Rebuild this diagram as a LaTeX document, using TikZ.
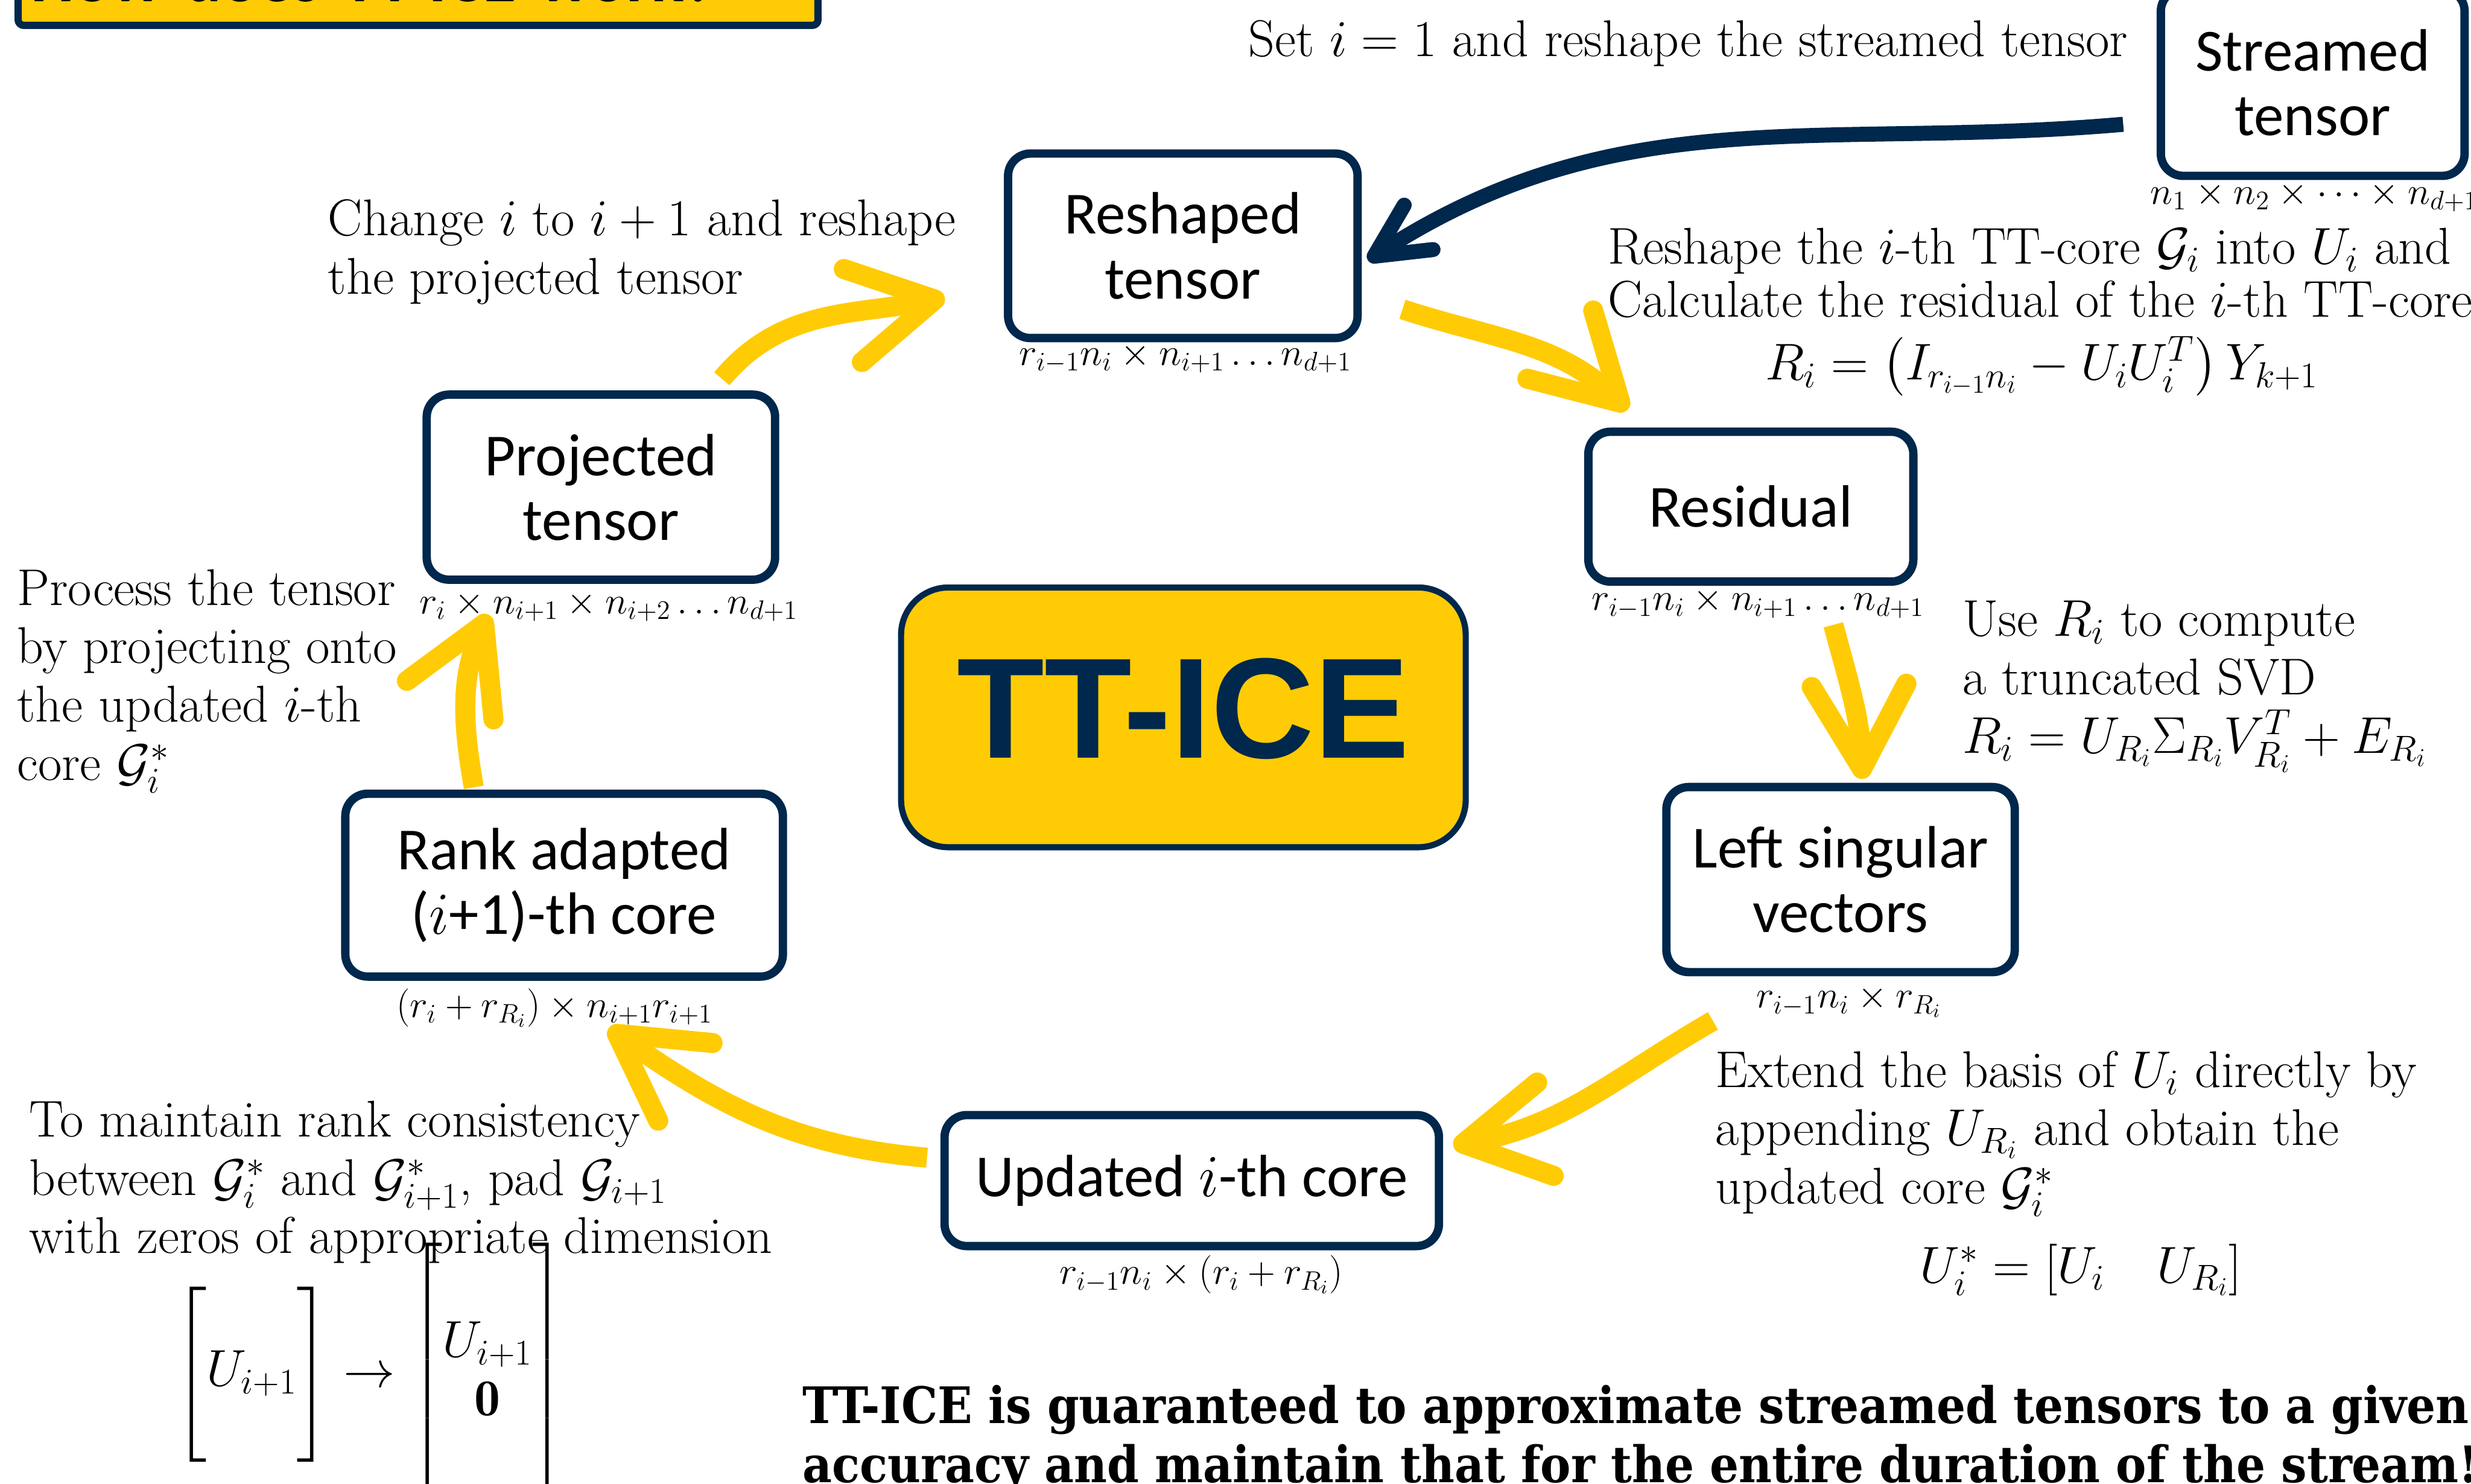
\documentclass[tikz,border=0pt]{standalone}
\usepackage{fix-cm}
\usepackage{tikz}
\usetikzlibrary{arrows.meta}
\usepackage{amsmath}
\usepackage{fontspec}
\newfontfamily\carlito{Carlito}
\newfontfamily\arialfont{Liberation Sans}
\newfontfamily\slabfont[FakeStretch=0.906]{DejaVu Serif}
\definecolor{maize}{HTML}{FFCB05}
\definecolor{umblue}{HTML}{00274C}

\begin{document}
\begin{tikzpicture}
                            \tikzset{tensor box/.style={draw=umblue, line width=1.5mm, rounded corners=4mm,
                            fill=white, align=center, minimum width=#1, font=\carlito\fontsize{30.5}{33}\selectfont}}
                            \tikzset{dim label/.style={inner sep=0pt, font=\fontsize{19.5}{23}\selectfont}}
                            \tikzset{note/.style={inner sep=0pt, align=left, anchor=west, font=\fontsize{26.4}{29.8}\selectfont}}
                            \tikzset{cycle arrow/.style={draw=maize, line width=3.6mm,
                            -{Straight Barb[round, length=15mm, width=17mm]}}}

                            \useasboundingbox (0,0) rectangle (44.33,-26.62);
                            \clip (0,0) rectangle (44.33,-26.62);

                            \node [draw=umblue, fill=maize, line width=1.3mm, rounded corners=1mm, anchor=south west,
                            inner xsep=2.3mm, inner ysep=0pt, text width=13.89cm, text height=1.5cm, text depth=0.425cm,
                            font=\carlito\bfseries\fontsize{35}{40}\selectfont] (title) at (0.26,-0.52) {How does TT-ICE work?};

                            \node [draw=umblue, fill=maize, line width=1.1mm, rounded corners=8.5mm, minimum width=10.13cm,
                            minimum height=4.66cm, text depth=0.34cm, text=umblue,
                            font=\arialfont\bfseries\fontsize{73}{80}\selectfont] (ttice) at (21.23,-12.87) {TT-ICE};

                            \node [tensor box=5.45cm, minimum height=3.35cm] (streamed) at (41.49,-1.48) {Streamed\\tensor};
                            \node [tensor box=6.27cm, minimum height=3.31cm] (reshaped) at (21.22,-4.41) {Reshaped\\tensor};
                            \node [tensor box=5.83cm, minimum height=2.69cm] (residual) at (31.41,-9.09) {Residual};
                            \node [tensor box=6.25cm, minimum height=3.32cm] (leftsv) at (33.02,-15.78) {Left singular\\vectors};
                            \node [tensor box=8.87cm, minimum height=2.35cm] (updated) at (21.38,-21.18) {Updated $i$-th core};
                            \node [tensor box=7.85cm, minimum height=3.28cm] (rank) at (10.12,-15.88) {Rank adapted\\($i$+1)-th core};
                            \node [tensor box=6.25cm, minimum height=3.32cm] (projected) at (10.78,-8.74) {Projected\\tensor};

                            \node [dim label] (streamed dim) at (41.52,-3.53) {$n_1\times n_2\times\cdots\times n_{d+1}$};
                            \node [dim label] (reshaped dim) at (21.27,-6.42) {$r_{i-1}n_i\times n_{i+1}\ldots n_{d+1}$};
                            \node [dim label] (residual dim) at (31.54,-10.82) {$r_{i-1}n_i\times n_{i+1}\ldots n_{d+1}$};
                            \node [dim label] (leftsv dim) at (33.17,-17.97) {$r_{i-1}n_i\times r_{R_i}$};
                            \node [dim label] (updated dim) at (21.55,-22.87) {$r_{i-1}n_i\times\left(r_i+r_{R_i}\right)$};
                            \node [dim label] (rank dim) at (9.95,-18.08) {$\left(r_i+r_{R_i}\right)\times n_{i+1}r_{i+1}$};
                            \node [dim label] (projected dim) at (10.92,-10.88) {$r_i\times n_{i+1}\times n_{i+2}\ldots n_{d+1}$};

                            \node [note] (set note) at (22.39,-0.78) {Set $i=1$ and reshape the streamed tensor};
                            \node [note] (change note) at (5.88,-4.52) {Change $i$ to $i+1$ and reshape\\the projected tensor};
                            \node [note, font=\fontsize{26.4}{27}\selectfont] (reshape note) at (28.84,-4.90)
                            {Reshape the $i$-th TT-core $\mathcal{G}_i$ into $U_i$ and\\Calculate the residual of the $i$-th TT-core};
                            \node [note, anchor=center] (residual eq) at (36.63,-6.57) {$R_i=\left(I_{r_{i-1}n_i}-U_iU_i^T\right)Y_{k+1}$};
                            \node [note] (svd note) at (35.20,-12.32) {Use $R_i$ to compute\\a truncated SVD\\$R_i=U_{R_i}\Sigma_{R_i}V_{R_i}^T+E_{R_i}$};
                            \node [note] (extend note) at (30.77,-20.34)
                            {Extend the basis of $U_i$ directly by\\appending $U_{R_i}$ and obtain the\\updated core $\mathcal{G}_i^*$};
                            \node [note, anchor=center] (extend eq) at (37.33,-22.78) {$U_i^*=\left[U_i\quad U_{R_i}\right]$};
                            \node [note] (process note) at (0.30,-12.22) {Process the tensor\\by projecting onto\\the updated $i$-th\\core $\mathcal{G}_i^*$};
                            \node [note] (pad note) at (0.52,-21.21)
                            {To maintain rank consistency\\between $\mathcal{G}_i^*$ and $\mathcal{G}_{i+1}^*$, pad $\mathcal{G}_{i+1}$\\with zeros of appropriate dimension};
                            \node [note] (pad eq) at (3.12,-24.66)
                            {$\left[\begin{matrix}\vphantom{U}\\U_{i+1}\\\vphantom{U}\end{matrix}\right]\rightarrow
                            \left[\begin{matrix}\rule{0pt}{29pt}\\U_{i+1}\\\mathbf{0}\\\rule[-17pt]{0pt}{17pt}\end{matrix}\right]$};

                            \node [anchor=base west, inner sep=0pt, align=left, font=\slabfont\bfseries\fontsize{25.7}{30.4}\selectfont]
                            (claim) at (14.39,-26.60) {TT-ICE is guaranteed to approximate streamed tensors to a given\\
                            accuracy and maintain that for the entire duration of the stream!};

                            \draw [draw=umblue, line width=2.7mm, -{Straight Barb[round, length=9.5mm, width=9.5mm]}]
                            ([xshift=-6mm,yshift=-7.5mm]streamed.west) to[out=185,in=33] ([xshift=1.1mm,yshift=-2.6mm]reshaped.east);
                            \draw [cycle arrow] ([xshift=7.3mm,yshift=5.9mm]reshaped.south east) to[out=-18,in=136] ([xshift=7.8mm,yshift=3.2mm]residual.north west);
                            \draw [cycle arrow] ([xshift=14.8mm,yshift=-7mm]residual.south) to[out=-75,in=92] ([xshift=3.9mm,yshift=0.7mm]leftsv.north);
                            \draw [cycle arrow] ([xshift=-22.9mm,yshift=-8mm]leftsv.south) to[out=210,in=10] ([xshift=1.8mm,yshift=6.3mm]updated.east);
                            \draw [cycle arrow] ([xshift=-2.4mm,yshift=4.1mm]updated.west) to[out=175,in=-35] ([xshift=8mm,yshift=-8.5mm]rank.south);
                            \draw [cycle arrow] ([xshift=-16.2mm,yshift=0.4mm]rank.north) to[out=100,in=246] ([xshift=-20.2mm,yshift=-5.5mm]projected.south);
                            \draw [cycle arrow] ([xshift=21.7mm,yshift=2.1mm]projected.north) to[out=50,in=191] ([xshift=-10.6mm,yshift=-9.3mm]reshaped.west);
                        \end{tikzpicture}
\end{document}
